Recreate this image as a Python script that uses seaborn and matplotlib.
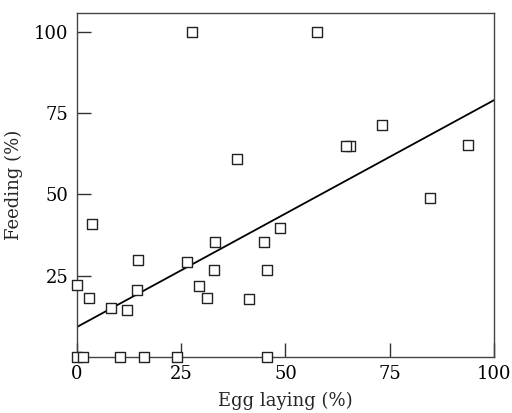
import matplotlib
matplotlib.use("Agg")
import matplotlib.pyplot as plt
import numpy as np
import pandas as pd
import seaborn as sns

# values
egg_laying = [0.0, 3.7, 3.0, 8.3, 12.0, 14.6, 14.4, 26.3, 29.3, 31.1,
              33.0, 32.8, 41.2, 44.8, 45.7, 48.7, 57.6, 27.6, 38.3, 73.2,
              65.4, 64.5, 93.8, 84.6, 0.0, 1.4, 10.4, 16.0, 23.9, 45.6]
feeding = [22.0, 40.9, 18.1, 15.0, 14.3, 29.8, 20.7, 29.3, 21.8, 18.1,
           35.3, 26.7, 17.8, 35.3, 26.7, 39.6, 100.0, 100.0, 61.0, 71.2,
           64.9, 64.9, 65.1, 48.9, 0.0, 0.0, 0.0, 0.0, 0.0, 0.0]
fit_intercept = 9.2
fit_slope = 0.698
x_ticks = [0, 25, 50, 75, 100]
y_ticks = [25, 50, 75, 100]

df = pd.DataFrame({"egg": egg_laying, "feed": feeding})
line_x = np.array([0, 100])
line_df = pd.DataFrame({"egg": line_x, "feed": fit_intercept + fit_slope * line_x})

sns.set_style("ticks")
plt.rcParams["font.family"] = ["DejaVu Serif"]

fig = plt.figure(figsize=(5.12, 4.13), dpi=100)
ax = fig.add_axes([0.150, 0.1356, 0.815, 0.833])

sns.lineplot(data=line_df, x="egg", y="feed", color="black", linewidth=1.3, ax=ax)
sns.scatterplot(data=df, x="egg", y="feed", marker="s", s=42, facecolor="white",
                edgecolor="#222222", linewidth=1.0, ax=ax, clip_on=False, zorder=3)

ax.set_xlim(0, 100)
ax.set_ylim(0, 105.8)
ax.set_xticks(x_ticks)
ax.set_yticks(y_ticks)
ax.tick_params(direction="in", length=10, width=1, colors="#333333",
               labelcolor="black", labelsize=13, pad=6)
for sp in ax.spines.values():
    sp.set_visible(True)
    sp.set_color("#444444")
    sp.set_linewidth(1.0)

ax.set_xlabel("Egg laying (%)", fontsize=13, labelpad=6)
ax.set_ylabel("Feeding (%)", fontsize=13, labelpad=8)

fig.savefig("out.png", dpi=100)
